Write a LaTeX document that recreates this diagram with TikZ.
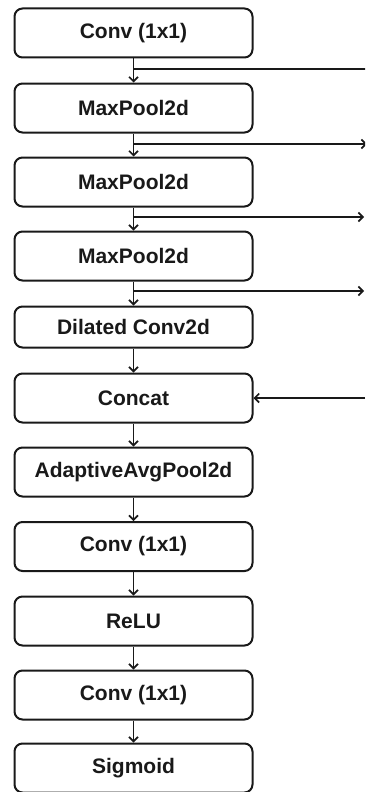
\documentclass[tikz,border=0pt]{standalone}
\usepackage{fontspec}
\setmainfont{Liberation Sans}
\usetikzlibrary{arrows.meta}
\begin{document}
\begin{tikzpicture}[x=1pt,y=-1pt,
  blk/.style={draw=black!90,line width=2pt,rounded corners=8pt,minimum width=238pt,minimum height=49pt,inner sep=0pt,font=\bfseries\fontsize{21}{22}\selectfont,text=black!90},
  arr/.style={draw=black!90,line width=1.7pt,-{Straight Barb[length=4.5pt,width=9pt,line width=1.6pt]}},
  ln/.style={draw=black!90,line width=1.7pt}]
\useasboundingbox (0,0) rectangle (365,792);
\begin{scope}
\clip (0,0) rectangle (365,792);
\node[blk] (b1) at (133.5,33) {Conv (1x1)};
\node[blk] (b2) at (133.5,108) {MaxPool2d};
\node[blk] (b3) at (133.5,182) {MaxPool2d};
\node[blk] (b4) at (133.5,256) {MaxPool2d};
\node[blk,minimum height=41pt] (b5) at (133.5,327) {Dilated Conv2d};
\node[blk] (b6) at (133.5,398) {Concat};
\node[blk] (b7) at (133.5,472) {AdaptiveAvgPool2d};
\node[blk] (b8) at (133.5,546.5) {Conv (1x1)};
\node[blk] (b9) at (133.5,621) {ReLU};
\node[blk] (b10) at (133.5,695) {Conv (1x1)};
\node[blk] (b11) at (133.5,768) {Sigmoid};
\foreach \a/\b in {b1/b2,b2/b3,b3/b4,b4/b5,b5/b6,b6/b7,b7/b8,b8/b9,b9/b10,b10/b11}
  \draw[arr] (\a.south) -- (\b.north);
\coordinate (j1) at (133.5,69);
\coordinate (j2) at (133.5,144);
\coordinate (j3) at (133.5,217);
\coordinate (j4) at (133.5,291);
\coordinate (e1) at (372,69);
\coordinate (e2) at (367,144);
\coordinate (e3) at (364,217);
\coordinate (e4) at (364,291);
\coordinate (c1) at (365,398);
\draw[arr] (j1) -- (e1);
\draw[arr] (j2) -- (e2);
\draw[arr] (j3) -- (e3);
\draw[arr] (j4) -- (e4);
\draw[arr] (c1) -- (b6.east);
\end{scope}
\end{tikzpicture}
\end{document}
